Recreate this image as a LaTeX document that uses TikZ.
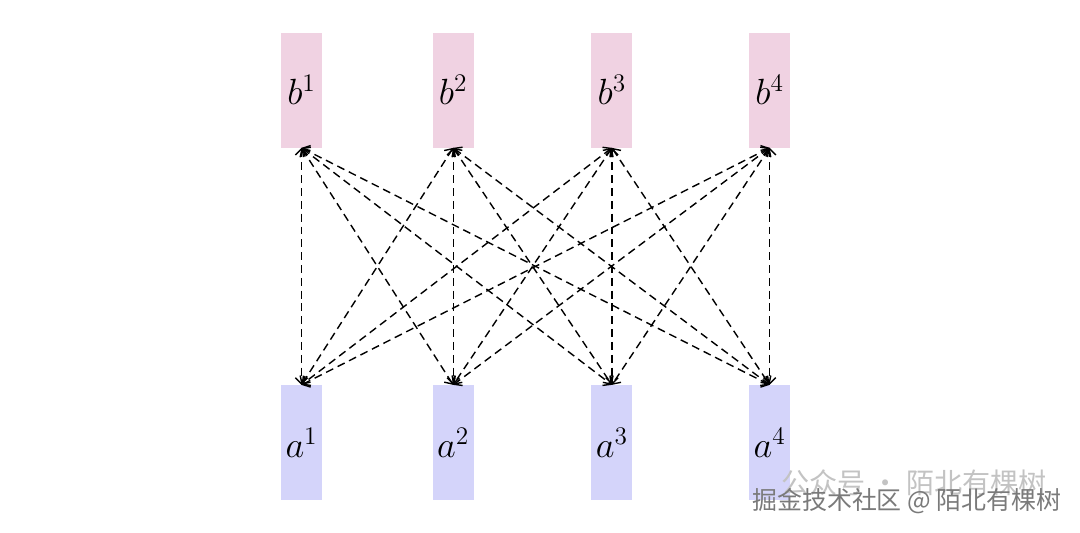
\documentclass[tikz,border=0pt]{standalone}
\usepackage{fontspec}
\newfontfamily\cjkfont{Noto Sans CJK SC}
\usetikzlibrary{arrows.meta,positioning}
\definecolor{keyPink}{HTML}{F0D2E2}
\definecolor{queryBlue}{HTML}{D4D4FA}
\definecolor{markGray}{HTML}{7A7A7A}

\begin{document}
\begin{tikzpicture}[
  tok/.style={inner sep=0pt,minimum width=0.82cm,minimum height=2.3cm,font=\fontsize{22}{26}\selectfont},
  kbox/.style={tok,fill=keyPink},
  qbox/.style={tok,fill=queryBlue},
  attn/.style={{Straight Barb[length=3.5pt,width=7pt]}-{Straight Barb[length=3.5pt,width=7pt]},line width=0.8pt,dash pattern=on 4.5pt off 2.8pt,color=black},
  wmark/.style={font=\cjkfont,anchor=west}
]
  \useasboundingbox (0,0) rectangle (21.6,10.64);
  % top row
  \node[kbox] (b1) at (6.03,8.84) {$b^1$};
  \node[kbox,right=2.2cm of b1] (b2) {$b^2$};
  \node[kbox,right=2.34cm of b2] (b3) {$b^3$};
  \node[kbox,right=2.32cm of b3] (b4) {$b^4$};
  % bottom row
  \node[qbox,below=4.74cm of b1] (a1) {$a^1$};
  \node[qbox,below=4.74cm of b2] (a2) {$a^2$};
  \node[qbox,below=4.74cm of b3] (a3) {$a^3$};
  \node[qbox,below=4.74cm of b4] (a4) {$a^4$};
  % every b to every a
  \foreach \i in {1,...,4}
    \foreach \j in {1,...,4}
      \draw[attn] (b\i.south) -- (a\j.north);
  % watermark
  \node[wmark,color=markGray!45,font=\cjkfont\fontsize{16}{18}\selectfont] (wx) at (15.5,0.98) {公众号 · 陌北有棵树};
  \node[wmark,color=markGray,font=\cjkfont\fontsize{14.2}{16}\selectfont] (wj) at (14.92,0.62) {掘金技术社区 @ 陌北有棵树};
\end{tikzpicture}
\end{document}
